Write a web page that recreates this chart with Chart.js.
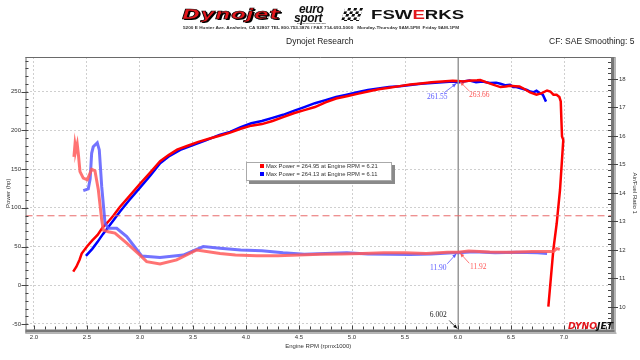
<!DOCTYPE html>
<html><head><meta charset="utf-8">
<script src="https://cdn.jsdelivr.net/npm/chart.js@4.4.1/dist/chart.umd.min.js"></script>
<style>
html,body{margin:0;padding:0;background:#fff;width:640px;height:360px;overflow:hidden;font-family:"Liberation Sans",Arial,sans-serif}
#wrap{position:relative;width:640px;height:360px}
canvas{position:absolute;left:0;top:0}
.abs{position:absolute;white-space:nowrap;line-height:1}
</style></head><body>
<div id="wrap">
<canvas id="c" width="640" height="360"></canvas>

<div class="abs" style="left:182px;top:6px;font:italic 900 13.5px 'DejaVu Sans';color:#e3161c;-webkit-text-stroke:0.6px #000;text-shadow:1px 1px 0 #000;transform:scaleX(1.62);transform-origin:left top;letter-spacing:0.2px">Dynojet</div>
<div class="abs" style="left:299px;top:2px;font:italic bold 12px 'Liberation Sans';color:#111;letter-spacing:-0.4px">euro</div>
<div class="abs" style="left:294px;top:11px;font:italic bold 12px 'Liberation Sans';color:#111;letter-spacing:-0.4px">sport</div>
<div class="abs" style="left:297px;top:22px;font:bold 2px 'Liberation Sans';color:#444">EUROSPORT PERFORMANCE</div>
<div class="abs" style="left:343px;top:8px;width:18px;height:13px;background:repeating-conic-gradient(#111 0 25%,#fff 0 50%) 0 0/6px 6px;transform:skewX(-18deg)"></div>
<div class="abs" style="left:371px;top:7px;font:bold 13.5px 'Liberation Sans';color:#111;transform:scaleX(1.38);transform-origin:left top">FSW<span style="color:#e3161c">E</span>RKS</div>
<div class="abs" style="left:183px;top:25px;font:bold 4.2px 'Liberation Sans';color:#333;transform:scaleX(1.12);transform-origin:left top">5200 E Hunter Ave. Anaheim, CA 92807 TEL 800.753.3876 / FAX 714-693-5000 &nbsp; Monday-Thursday 9AM-5PM &nbsp;Friday 9AM-1PM</div>
<div class="abs" style="left:286px;top:36px;font:8.5px 'Liberation Sans';color:#222">Dynojet Research</div>
<div class="abs" style="left:549px;top:36px;font:8.5px 'Liberation Sans';color:#222">CF: SAE Smoothing: 5</div>

<div class="abs" style="left:246px;top:162px;width:144px;height:17px;background:#fff;border:1px solid #aaa;box-shadow:3px 3px 0 #8a8a8a"></div>
<div class="abs" style="left:260px;top:164px;width:3.5px;height:3.5px;background:#ff0000"></div>
<div class="abs" style="left:266px;top:163px;font:5.8px 'Liberation Sans';color:#333">Max Power = 264.95 at Engine RPM = 6.21</div>
<div class="abs" style="left:260px;top:172px;width:3.5px;height:3.5px;background:#0000ff"></div>
<div class="abs" style="left:266px;top:171px;font:5.8px 'Liberation Sans';color:#333">Max Power = 264.13 at Engine RPM = 6.11</div>

<div class="abs" style="left:568px;top:322px;font:italic 900 8px 'DejaVu Sans';color:#e3161c;transform:scaleX(1.15);transform-origin:left top">DYNO<span style="color:#111">JET</span></div>
</div>
<script>
// ---- data ----
const redPowerRpm = [2.37,2.40,2.43,2.45,2.50,2.55,2.60,2.65,2.70,2.75,2.81,2.90,3.00,3.10,3.19,3.27,3.35,3.45,3.55,3.65,3.75,3.85,3.95,4.05,4.15,4.25,4.35,4.45,4.55,4.65,4.75,4.85,4.95,5.05,5.15,5.25,5.35,5.45,5.55,5.65,5.75,5.85,5.95,6.00,6.05,6.10,6.18,6.21,6.27,6.33,6.40,6.45,6.49,6.54,6.58,6.63,6.68,6.74,6.79,6.84,6.87,6.90,6.93,6.956,6.969,6.975,6.981,6.993,6.962,6.931,6.899,6.852];
const redPowerHp = [17.6,24,33,41,50,58,65,75,82,90,101,115,131,146,160,168,175,180,185,189,193,197,202,206,208,212,217,222,226,230,236,241,244,247,250,253,255,257,259,260.5,262,263,264,263.7,263,264,264.5,264.95,261.8,259,255.8,256.5,257.5,257,256.6,253,248.8,245.9,248,251.4,250.1,245.9,245.9,242.9,237.2,213.6,192,187.7,123,80,45.6,-27.6];
const bluePowerRpm = [2.49,2.55,2.60,2.65,2.70,2.75,2.81,2.90,3.00,3.10,3.19,3.28,3.38,3.50,3.62,3.75,3.85,3.95,4.05,4.15,4.25,4.35,4.45,4.55,4.65,4.75,4.85,4.95,5.05,5.15,5.25,5.35,5.45,5.55,5.65,5.75,5.85,5.95,6.00,6.05,6.11,6.17,6.23,6.30,6.36,6.40,6.45,6.49,6.52,6.55,6.60,6.65,6.68,6.71,6.74,6.77,6.80,6.83];
const bluePowerHp = [37.9,47,56,66,75,84,95,110,126,142,157.6,167,174.8,181,187,194,198,204,209,212,216,220,225,230,235,239,243,246,249,252,254,256,257,258.5,260,261,262,263,261.6,263,264.13,262,263,261,261.5,260,258,258.8,256,255.8,254,252,250,249,251,248,246,237];
const redAfrRpm = [2.377,2.387,2.396,2.408,2.418,2.434,2.465,2.503,2.544,2.575,2.607,2.639,2.654,2.701,2.764,2.875,3.00,3.063,3.189,3.346,3.535,3.755,3.90,4.10,4.30,4.50,4.70,4.90,5.10,5.30,5.50,5.70,5.90,6.00,6.10,6.30,6.50,6.70,6.90,6.93,6.96];
const redAfr = [15.27,15.71,15.51,15.71,15.39,14.75,14.52,14.46,14.83,14.78,14.11,13.05,12.70,12.64,12.59,12.24,11.82,11.59,11.51,11.65,12.00,11.88,11.82,11.80,11.80,11.82,11.85,11.86,11.88,11.90,11.90,11.88,11.92,11.92,11.96,11.93,11.92,11.95,11.95,12.05,12.02];
const blueAfrRpm = [2.465,2.512,2.530,2.544,2.559,2.597,2.616,2.639,2.670,2.701,2.780,2.875,3.016,3.189,3.408,3.597,3.755,3.95,4.15,4.35,4.55,4.75,4.95,5.15,5.35,5.55,5.75,5.95,6.00,6.15,6.35,6.55,6.75,6.84];
const blueAfr = [14.08,14.14,14.5,15.39,15.62,15.76,15.51,14.22,12.94,12.76,12.76,12.47,11.79,11.74,11.82,12.12,12.06,12.00,11.97,11.90,11.85,11.88,11.90,11.86,11.85,11.84,11.86,11.90,11.90,11.94,11.90,11.92,11.90,11.88];
const afrTarget = 13.2;
const cursorRpm = 6.002;
const cursorPower = [263.66, 261.55]; // red, blue
const cursorAfr = [11.92, 11.90];     // red, blue
const xRange = [1.92, 7.443];
const powerRange = [-57.1, 294.6];
const afrRange = [9.21, 18.77];

const pts = (xs, ys) => xs.map((v, i) => ({x: v, y: ys[i]}));
const near = (v, s) => Math.abs(v / s - Math.round(v / s)) < 1e-6;

function arrow(ctx, x1, y1, x2, y2, color) {
  ctx.strokeStyle = color; ctx.fillStyle = color; ctx.lineWidth = 0.8;
  ctx.beginPath(); ctx.moveTo(x1, y1); ctx.lineTo(x2, y2); ctx.stroke();
  const a = Math.atan2(y2 - y1, x2 - x1), L = 4, W = 1.8;
  ctx.beginPath(); ctx.moveTo(x2, y2);
  ctx.lineTo(x2 - L * Math.cos(a) + W * Math.sin(a), y2 - L * Math.sin(a) - W * Math.cos(a));
  ctx.lineTo(x2 - L * Math.cos(a) - W * Math.sin(a), y2 - L * Math.sin(a) + W * Math.cos(a));
  ctx.closePath(); ctx.fill();
}

const decor = {
  id: 'decor',
  afterDraw(chart) {
    const {ctx, chartArea: a, scales: {x, y, y2}} = chart;
    ctx.save();
    ctx.strokeStyle = '#6a6a6a'; ctx.lineWidth = 1;
    ctx.beginPath(); ctx.moveTo(a.left, a.top + 0.5); ctx.lineTo(a.right + 4, a.top + 0.5); ctx.stroke();
    ctx.beginPath(); ctx.moveTo(a.left + 0.5, a.top); ctx.lineTo(a.left + 0.5, a.bottom + 4); ctx.stroke();
    ctx.fillStyle = '#777'; ctx.fillRect(a.left, a.bottom, a.right + 4 - a.left, 3);
    ctx.fillStyle = '#b4b4b4'; ctx.fillRect(a.left, a.bottom + 3, a.right + 5.5 - a.left, 1.5);
    ctx.fillStyle = '#777'; ctx.fillRect(a.right, a.top, 3.5, a.bottom - a.top);
    ctx.fillStyle = '#b4b4b4'; ctx.fillRect(a.right + 3.5, a.top, 1.5, a.bottom + 4.5 - a.top);
    ctx.strokeStyle = '#444'; ctx.lineWidth = 1;
    for (let i = 19; i <= 75; i++) {
      const px = Math.round(x.getPixelForValue(i / 10)) + 0.5;
      if (px < a.left + 1 || px > a.right - 1) continue;
      const len = i % 5 === 0 ? 4 : 3;
      ctx.beginPath(); ctx.moveTo(px, a.bottom); ctx.lineTo(px, a.bottom - len); ctx.stroke();
    }
    for (let v = -50; v <= 290; v += 10) {
      const py = Math.round(y.getPixelForValue(v)) + 0.5;
      if (py < a.top + 1 || py > a.bottom - 1) continue;
      ctx.beginPath();
      ctx.moveTo(v % 50 === 0 ? a.left - 4 : a.left, py); ctx.lineTo(a.left + 3, py); ctx.stroke();
    }
    for (let i = 46; i <= 94; i++) {
      const v = i / 5;
      const py = Math.round(y2.getPixelForValue(v)) + 0.5;
      if (py < a.top + 1 || py > a.bottom - 1) continue;
      ctx.beginPath();
      ctx.moveTo(a.right - 3, py); ctx.lineTo(i % 5 === 0 ? a.right + 7 : a.right, py); ctx.stroke();
    }
    const tx = x.getPixelForValue(cursorRpm);
    ctx.font = '7.5px "Liberation Serif"'; ctx.textAlign = 'center'; ctx.textBaseline = 'middle';
    const rc = '#ff5a5a', bc = '#5a5aff';
    let ty = y.getPixelForValue(cursorPower[1]);
    arrow(ctx, tx - 14, ty + 10, tx - 2, ty + 1, bc); ctx.fillStyle = bc; ctx.fillText(cursorPower[1].toFixed(2), tx - 21, ty + 14);
    ty = y.getPixelForValue(cursorPower[0]);
    arrow(ctx, tx + 11, ty + 10, tx + 2, ty + 1, rc); ctx.fillStyle = rc; ctx.fillText(cursorPower[0].toFixed(2), tx + 21, ty + 14);
    ty = y2.getPixelForValue(cursorAfr[1]);
    arrow(ctx, tx - 11, ty + 11, tx - 2, ty + 1, bc); ctx.fillStyle = bc; ctx.fillText(cursorAfr[1].toFixed(2), tx - 20, ty + 15);
    ty = y2.getPixelForValue(cursorAfr[0]);
    arrow(ctx, tx + 11, ty + 11, tx + 2, ty + 1, rc); ctx.fillStyle = rc; ctx.fillText(cursorAfr[0].toFixed(2), tx + 20, ty + 15);
    arrow(ctx, tx - 9, a.bottom - 9, tx - 1, a.bottom - 1, '#111'); ctx.fillStyle = '#222';
    ctx.fillText(cursorRpm.toFixed(3), tx - 20, a.bottom - 14);
    ctx.restore();
  }
};

Chart.defaults.font.family = '"Liberation Sans", Arial, sans-serif';
Chart.defaults.color = '#333';

new Chart(document.getElementById('c'), {
  type: 'scatter',
  data: {
    datasets: [
      {data: pts(redAfrRpm, redAfr), yAxisID: 'y2', borderColor: 'rgba(255,90,90,0.85)', borderWidth: 3},
      {data: pts(blueAfrRpm, blueAfr), yAxisID: 'y2', borderColor: 'rgba(90,90,255,0.85)', borderWidth: 3},
      {data: pts(xRange, [afrTarget, afrTarget]), yAxisID: 'y2', borderColor: '#e86a6a', borderWidth: 1, borderDash: [7, 4]},
      {data: pts([cursorRpm, cursorRpm], powerRange), yAxisID: 'y', borderColor: '#999', borderWidth: 1.5},
      {data: pts(redPowerRpm, redPowerHp), yAxisID: 'y', borderColor: '#ff0000', borderWidth: 2.5},
      {data: pts(bluePowerRpm, bluePowerHp), yAxisID: 'y', borderColor: '#0000ff', borderWidth: 2.5}
    ].map(d => Object.assign({showLine: true, pointRadius: 0, tension: 0, fill: false}, d))
  },
  options: {
    responsive: false, animation: false, devicePixelRatio: 1,
    layout: {padding: {top: 57, left: 0, right: 0, bottom: 0}},
    plugins: {legend: {display: false}, tooltip: {enabled: false}},
    scales: {
      x: {
        type: 'linear', position: 'bottom', min: xRange[0], max: xRange[1],
        afterFit: s => { s.height = 30.5; },
        ticks: {stepSize: 0.1, includeBounds: false, autoSkip: false, maxRotation: 0, padding: 4, font: {size: 6},
          callback: v => near(v, 0.5) ? v.toFixed(1) : ''},
        grid: {drawTicks: false, color: c => (c.tick && near(c.tick.value, 0.5)) ? '#cfcfcf' : 'rgba(0,0,0,0)', lineWidth: 1},
        border: {display: false, dash: [2, 2]},
        title: {display: true, text: 'Engine RPM (rpmx1000)', font: {size: 6}, padding: {top: 0, bottom: 10}}
      },
      y: {
        position: 'left', min: powerRange[0], max: powerRange[1],
        afterFit: s => { s.width = 25.5; },
        ticks: {stepSize: 10, includeBounds: false, autoSkip: false, padding: 4.5, font: {size: 6},
          callback: v => near(v, 50) ? String(Math.round(v)) : ''},
        grid: {drawTicks: false, color: c => (c.tick && near(c.tick.value, 50)) ? '#cfcfcf' : 'rgba(0,0,0,0)', lineWidth: 1},
        border: {display: false, dash: [2, 2]},
        title: {display: true, text: 'Power (hp)', font: {size: 6}, padding: {top: 4.5, bottom: 0}}
      },
      y2: {
        position: 'right', min: afrRange[0], max: afrRange[1],
        afterFit: s => { s.width = 29; },
        ticks: {stepSize: 0.2, includeBounds: false, autoSkip: false, padding: 8, font: {size: 6},
          callback: v => near(v, 1) ? String(Math.round(v)) : ''},
        grid: {drawTicks: false, drawOnChartArea: false},
        border: {display: false},
        title: {display: true, text: 'Air/Fuel Ratio 1', font: {size: 6}, padding: {top: 1.5, bottom: 0}}
      }
    }
  },
  plugins: [decor]
});
</script>
</body></html>
